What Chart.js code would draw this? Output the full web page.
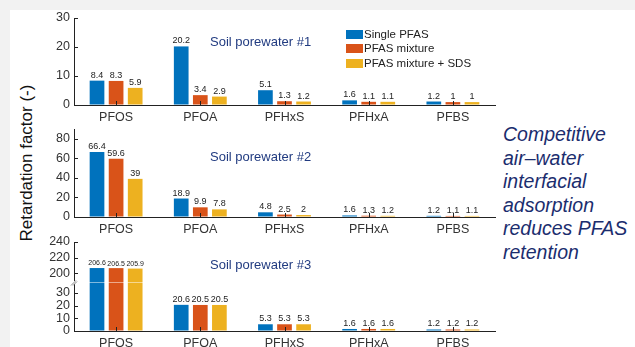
<!DOCTYPE html>
<html>
<head>
<meta charset="utf-8">
<script src="https://cdn.jsdelivr.net/npm/chart.js@4.4.1/dist/chart.umd.min.js"></script>
<style>
  html, body { margin: 0; padding: 0; }
  body {
    width: 635px; height: 347px; position: relative; overflow: hidden;
    background: #f2f2f2;
    font-family: "Liberation Sans", Arial, sans-serif;
  }
  #sheet { position: absolute; left: 10px; top: 10px; right: 0; bottom: 0; background: #fff; }
  canvas { position: absolute; left: 40px; }
  #c1 { top: 12px; }
  #c2 { top: 123px; }
  #c3 { top: 235px; }
  .panel-title {
    position: absolute; left: 210px; font-size: 13px; line-height: 16px;
    color: #213b80; white-space: nowrap;
  }
  #legend { position: absolute; left: 346px; top: 28px; font-size: 11.5px; color: #222; }
  #legend div { height: 14.4px; line-height: 13px; white-space: nowrap; }
  #legend span {
    display: inline-block; width: 17px; height: 9px; margin-right: 1px;
    vertical-align: -1px;
  }
  #ytitle {
    position: absolute; left: 27px; top: 163px; font-size: 17px; color: #111;
    white-space: nowrap; transform: translate(-50%, -50%) rotate(-90deg);
  }
  #note {
    position: absolute; left: 503px; top: 123px; font-size: 19.5px; line-height: 23.5px;
    font-style: italic; color: #1b2d6e; white-space: nowrap;
  }
</style>
</head>
<body>
<div id="sheet"></div>
<canvas id="c1" width="460" height="111"></canvas>
<canvas id="c2" width="460" height="112"></canvas>
<canvas id="c3" width="460" height="112"></canvas>

<div class="panel-title" style="top:34px">Soil porewater #1</div>
<div class="panel-title" style="top:149px">Soil porewater #2</div>
<div class="panel-title" style="top:257px">Soil porewater #3</div>
<div id="legend"></div>
<div id="ytitle">Retardation factor (-)</div>
<div id="note">Competitive<br>air–water<br>interfacial<br>adsorption<br>reduces PFAS<br>retention</div>

<script>
// categories and series
const categories = ['PFOS', 'PFOA', 'PFHxS', 'PFHxA', 'PFBS'];
const seriesNames = ['Single PFAS', 'PFAS mixture', 'PFAS mixture + SDS'];
const seriesColors = ['#0072BD', '#D95319', '#EDB120'];

// soil porewater #1
const single1  = [8.4, 20.2, 5.1, 1.6, 1.2];
const mixture1 = [8.3, 3.4, 1.3, 1.1, 1];
const sds1     = [5.9, 2.9, 1.2, 1.1, 1];

// soil porewater #2
const single2  = [66.4, 18.9, 4.8, 1.6, 1.2];
const mixture2 = [59.6, 9.9, 2.5, 1.3, 1.1];
const sds2     = [39, 7.8, 2, 1.2, 1.1];

// soil porewater #3
const single3  = [206.6, 20.6, 5.3, 1.6, 1.2];
const mixture3 = [206.5, 20.5, 5.3, 1.6, 1.2];
const sds3     = [205.9, 20.5, 5.3, 1.6, 1.2];

// y tick values per panel
const yTicks1 = [0, 10, 20, 30];
const yTicks2 = [0, 20, 40, 60, 80];
const yTicks3 = [0, 10, 20, 30, 200, 220, 240];

// broken axis for panel 3: 0..LOW_MAX at the bottom, HIGH_MIN..max at the top
const LOW_MAX = 37, HIGH_MIN = 190;
const LOW_FRAC = 0.528, HIGH_FRAC = 0.438;

const FONT = '"Liberation Sans", Arial, sans-serif';
Chart.defaults.font.family = FONT;
Chart.defaults.color = '#222';

class BrokenLinearScale extends Chart.LinearScale {
  getPixelForValue(value) {
    if (value === null || value === undefined) return NaN;
    const h = this.bottom - this.top;
    const lowH = h * LOW_FRAC, highH = h * HIGH_FRAC;
    if (value <= LOW_MAX) return this.bottom - value / LOW_MAX * lowH;
    if (value >= HIGH_MIN) return this.top + (this.max - value) / (this.max - HIGH_MIN) * highH;
    return this.bottom - lowH - (value - LOW_MAX) / (HIGH_MIN - LOW_MAX) * (h - lowH - highH);
  }
  getValueForPixel(pixel) {
    const h = this.bottom - this.top;
    const lowH = h * LOW_FRAC, highH = h * HIGH_FRAC;
    const fromBottom = this.bottom - pixel;
    if (fromBottom <= lowH) return fromBottom / lowH * LOW_MAX;
    const fromTop = pixel - this.top;
    if (fromTop <= highH) return this.max - fromTop / highH * (this.max - HIGH_MIN);
    return LOW_MAX + (fromBottom - lowH) / (h - lowH - highH) * (HIGH_MIN - LOW_MAX);
  }
}
BrokenLinearScale.id = 'brokenLinear';
BrokenLinearScale.defaults = Chart.LinearScale.defaults;
Chart.register(BrokenLinearScale);

// value text above every bar
const barLabels = {
  id: 'barLabels',
  afterDatasetsDraw(chart, args, opts) {
    const ctx = chart.ctx;
    ctx.save();
    ctx.fillStyle = '#222';
    ctx.textAlign = 'center';
    ctx.textBaseline = 'bottom';
    chart.data.datasets.forEach((ds, di) => {
      chart.getDatasetMeta(di).data.forEach((bar, i) => {
        const v = ds.data[i];
        const size = (opts.smallAbove && v >= opts.smallAbove) ? 7 : 9;
        ctx.font = size + 'px ' + FONT;
        ctx.fillText(String(v), bar.x, bar.y - 1);
      });
    });
    ctx.restore();
  }
};

// tick marks pointing into the plot
const innerTicks = {
  id: 'innerTicks',
  afterDatasetsDraw(chart) {
    const { ctx, chartArea: a, scales: { x, y } } = chart;
    ctx.save();
    ctx.strokeStyle = '#222';
    ctx.lineWidth = 1;
    ctx.beginPath();
    x.ticks.forEach((t, i) => {
      const px = Math.round(x.getPixelForTick(i)) + 0.5;
      ctx.moveTo(px, a.bottom);
      ctx.lineTo(px, a.bottom - 4);
    });
    y.ticks.forEach((t, i) => {
      const py = Math.round(y.getPixelForTick(i)) + 0.5;
      ctx.moveTo(a.left, py);
      ctx.lineTo(a.left + 4, py);
    });
    ctx.stroke();
    ctx.restore();
  }
};

// gap in the y axis and a faint cut line across the bars
const axisBreak = {
  id: 'axisBreak',
  afterDraw(chart) {
    const { ctx, chartArea: a, scales: { y } } = chart;
    const yLo = y.getPixelForValue(LOW_MAX), yHi = y.getPixelForValue(HIGH_MIN);
    const mid = (yLo + yHi) / 2;
    ctx.save();
    ctx.fillStyle = '#fff';
    ctx.fillRect(a.left - 2, yHi, 4, yLo - yHi);
    ctx.strokeStyle = 'rgba(255,255,255,0.5)';
    ctx.lineWidth = 1;
    ctx.beginPath();
    ctx.moveTo(a.left + 1, Math.round(mid) + 0.5);
    ctx.lineTo(a.right, Math.round(mid) + 0.5);
    ctx.stroke();
    ctx.strokeStyle = '#888';
    ctx.beginPath();
    ctx.moveTo(a.left - 3, mid + 3);
    ctx.lineTo(a.left + 2, mid - 2);
    ctx.moveTo(a.left - 1, mid + 3);
    ctx.lineTo(a.left + 3, mid - 1);
    ctx.stroke();
    ctx.restore();
  }
};

function makePanel(id, values, yType, yMax, yTicks, padTop, xHeight, labelOpts, extraPlugins) {
  return new Chart(document.getElementById(id), {
    type: 'bar',
    data: {
      labels: categories,
      datasets: values.map((vals, i) => ({
        label: seriesNames[i],
        data: vals,
        backgroundColor: seriesColors[i],
        borderWidth: 0,
        categoryPercentage: 0.68,
        barPercentage: 0.77,
      }))
    },
    options: {
      responsive: false, animation: false,
      layout: { padding: { top: padTop, right: 5, left: 0, bottom: 0 } },
      plugins: { legend: { display: false }, tooltip: { enabled: false }, barLabels: labelOpts },
      scales: {
        x: {
          grid: { drawOnChartArea: false, drawTicks: false },
          border: { color: '#222' },
          ticks: { padding: 5, color: '#333', font: { size: 12.5 }, autoSkip: false, maxRotation: 0 },
          afterFit: s => { s.height = xHeight; s.paddingLeft = 0; s.paddingRight = 0; }
        },
        y: {
          type: yType, min: 0, max: yMax,
          grid: { drawOnChartArea: false, drawTicks: false },
          border: { color: '#222' },
          ticks: { padding: 4, color: '#333', font: { size: 12.5 }, autoSkip: false },
          afterBuildTicks: s => { s.ticks = yTicks.map(v => ({ value: v })); },
          afterFit: s => { s.width = 34; s.paddingTop = 0; s.paddingBottom = 0; }
        }
      }
    },
    plugins: [barLabels, innerTicks].concat(extraPlugins || [])
  });
}

makePanel('c1', [single1, mixture1, sds1], 'linear', 30, yTicks1, 6, 18, {});
makePanel('c2', [single2, mixture2, sds2], 'linear', 90, yTicks2, 6, 18, {});
makePanel('c3', [single3, mixture3, sds3], 'brokenLinear', 240, yTicks3, 7, 16, { smallAbove: 100 }, [axisBreak]);

// legend for the three series
document.getElementById('legend').innerHTML = seriesNames
  .map((n, i) => '<div><span style="background:' + seriesColors[i] + '"></span>' + n + '</div>')
  .join('');
</script>
</body>
</html>
